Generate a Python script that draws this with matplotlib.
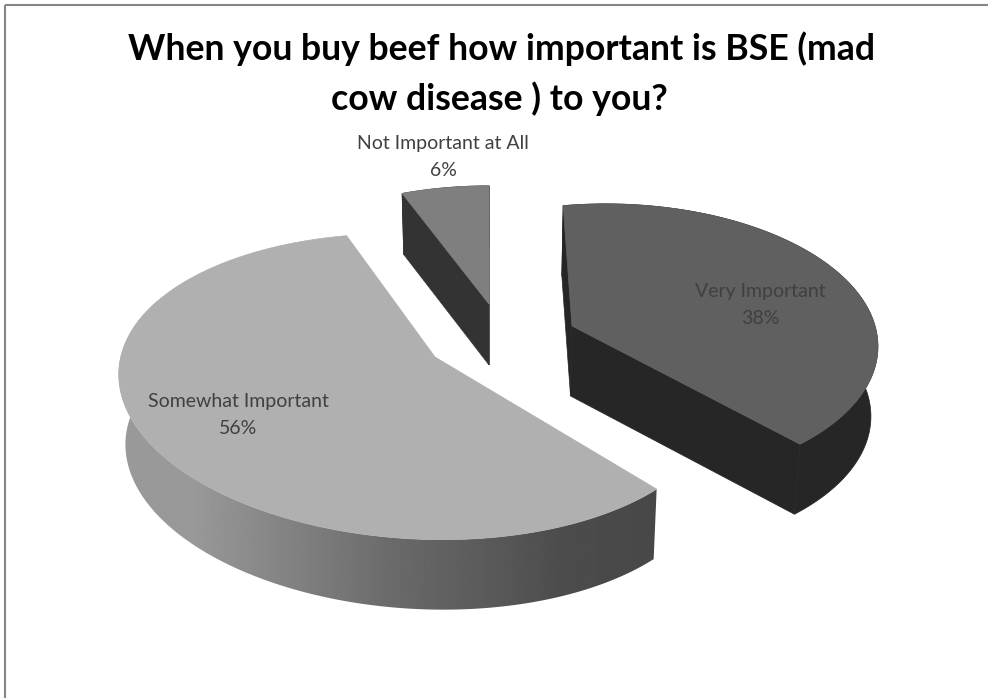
import numpy as np
from matplotlib import pyplot as plt
from matplotlib.patches import Rectangle, Polygon

# values
categories = ['Very Important', 'Somewhat Important', 'Not Important at All']
values = [38, 56, 6]
title_lines = ['When you buy beef how important is BSE (mad', 'cow disease ) to you?']

# per slice projection of the pie plane onto the page: cx, cy, a, c, d, e, g, p, depth
proj = [(572, 326, 259, -10, -5, 136, -0.14, 0.13, 70),
        (435, 357, 293, 5, 16, 146, 0.05, 0.2, 70),
        (489, 304, 258, 0, 0, 130, 0, 0.1, 61)]
top_col = ['#606060', '#b0b0b0', '#7f7f7f']
wall_col = ['#262626', None, '#333333']
draw_order = [2, 1, 0]
label_pos = [(760, 291), (238, 402), (443, 144)]

# grey of the Somewhat wall along the page
grad_x = [120, 190, 300, 400, 500, 560, 657]
grad_g = [0.60, 0.60, 0.50, 0.41, 0.345, 0.30, 0.28]

def project(th, r, pr):
	cx, cy, a, c, d, e, g, p, depth = pr
	X = r*np.sin(th)
	Y = r*np.cos(th)
	s = 1.0/(1 + g*X + p*Y)
	return cx + (a*X + c*Y)*s, cy + (d*X - e*Y)*s

def lower(x, y, depth):
	return 490 + (x-490)*0.982, y + depth

fig = plt.figure(figsize=(9.88, 6.98), dpi=100)
ax = fig.add_axes([0, 0, 1, 1])
ax.set_xlim(0, 988)
ax.set_ylim(698, 0)
ax.axis('off')

ax.add_patch(Rectangle((5, 5), 1100, 1100, fill=False, ec='#868686', lw=1.5))

edges = np.cumsum([0] + values)/float(sum(values))*2*np.pi

for i in draw_order:
	pr = proj[i]
	depth = pr[8]
	th = np.linspace(edges[i], edges[i+1], 200)
	x, y = project(th, np.ones(th.size), pr)
	x0, y0 = project(0.0, 0.0, pr)
	xl, yl = lower(x, y, depth)
	x0l, y0l = lower(x0, y0, depth)
	wall = np.c_[np.r_[x, xl[::-1]], np.r_[y, yl[::-1]]]
	if wall_col[i] is not None:
		# radial walls
		for k in (0, -1):
			ax.fill([x0, x[k], xl[k], x0l], [y0, y[k], yl[k], y0l], color=wall_col[i], lw=0.5)
		ax.fill(wall[:, 0], wall[:, 1], color=wall_col[i], lw=0.5)
	else:
		# outer wall with the shading
		px = np.arange(100, 700)
		im = ax.imshow(np.interp(px, grad_x, grad_g)[None, :], cmap='gray', vmin=0, vmax=1,
			extent=(100, 700, 650, 300), aspect='auto', zorder=1)
		clip = Polygon(wall, closed=True, transform=ax.transData)
		im.set_clip_path(clip)
	# face
	ax.fill(np.r_[x0, x], np.r_[y0, y], color=top_col[i], lw=0.5, zorder=2)

ax.set_xlim(0, 988)
ax.set_ylim(698, 0)

for i in range(len(categories)):
	lx, ly = label_pos[i]
	ax.text(lx, ly, categories[i], ha='center', va='center', family='Lato', fontsize=14, color='#404040', zorder=5)
	ax.text(lx, ly+27, '%d%%' % values[i], ha='center', va='center', family='Lato', fontsize=14, color='#404040', zorder=5)

ax.text(501, 49, title_lines[0], ha='center', va='center', family='Lato', weight='bold', fontsize=25.7, color='black')
ax.text(499, 99, title_lines[1], ha='center', va='center', family='Lato', weight='bold', fontsize=25.7, color='black')

plt.savefig('out.png', dpi=100)
